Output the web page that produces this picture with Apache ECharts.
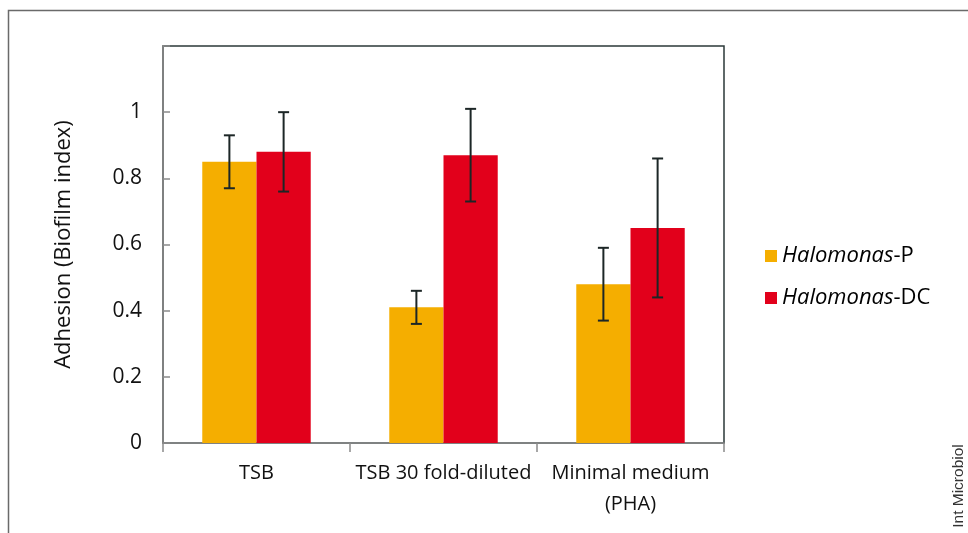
<!DOCTYPE html>
<html>
<head>
<meta charset="utf-8">
<script src="https://cdn.jsdelivr.net/npm/echarts@6/dist/echarts.min.js"></script>
<style>
html,body{margin:0;padding:0;background:#fff;}
#main{width:968px;height:533px;}
</style>
</head>
<body>
<div id="main"></div>
<script>
var categories = ['TSB', 'TSB 30 fold-diluted', 'Minimal medium\n(PHA)'];
var seriesNames = ['Halomonas-P', 'Halomonas-DC'];
var pValues = [0.85, 0.41, 0.48];
var pErrors = [0.08, 0.05, 0.11];
var dcValues = [0.88, 0.87, 0.65];
var dcErrors = [0.12, 0.14, 0.21];
var yAxisTitle = 'Adhesion (Biofilm index)';
var sourceNote = 'Int Microbiol';

var FONT = '"Open Sans", "Noto Sans", sans-serif';
var BAR_FRAC = 0.29;
var colors = ['#F5AE00', '#E2001B'];

function errorSeries(values, errors, idx) {
  var data = values.map(function (v, i) { return [i, v - errors[i], v + errors[i]]; });
  return {
    type: 'custom',
    name: seriesNames[idx] + ' error',
    z: 10,
    silent: true,
    data: data,
    encode: { x: 0, y: [1, 2] },
    renderItem: function (params, api) {
      var ci = api.value(0);
      var lo = api.coord([ci, api.value(1)]);
      var hi = api.coord([ci, api.value(2)]);
      var band = api.size([1, 0])[0];
      var bw = band * BAR_FRAC;
      var x = lo[0] + (idx === 0 ? -bw / 2 : bw / 2);
      var cap = 5.5;
      var st = { stroke: '#1c2626', lineWidth: 2 };
      return {
        type: 'group',
        children: [
          { type: 'line', shape: { x1: x, y1: lo[1], x2: x, y2: hi[1] }, style: st },
          { type: 'line', shape: { x1: x - cap, y1: hi[1], x2: x + cap, y2: hi[1] }, style: st },
          { type: 'line', shape: { x1: x - cap, y1: lo[1], x2: x + cap, y2: lo[1] }, style: st }
        ]
      };
    }
  };
}

var chart = echarts.init(document.getElementById('main'), null, { renderer: 'canvas' });
chart.setOption({
  animation: false,
  backgroundColor: '#fff',
  textStyle: { fontFamily: FONT },
  grid: {
    left: 163, right: 244, top: 46, bottom: 90,
    show: true, borderColor: '#2b3838', borderWidth: 1.5, backgroundColor: 'transparent'
  },
  legend: {
    orient: 'vertical',
    left: 760, top: 239,
    itemWidth: 12, itemHeight: 12, itemGap: 18,
    icon: 'rect',
    data: seriesNames,
    formatter: function (name) {
      var parts = name.split('-');
      return '{i|' + parts[0] + '}{n|-' + parts[1] + '}';
    },
    textStyle: {
      fontFamily: FONT, fontSize: 22, color: '#000', lineHeight: 24,
      rich: {
        i: { fontFamily: FONT, fontSize: 22, fontStyle: 'italic', color: '#000', lineHeight: 24 },
        n: { fontFamily: FONT, fontSize: 22, color: '#000', lineHeight: 24 }
      }
    }
  },
  xAxis: {
    type: 'category',
    data: categories,
    axisLine: { show: true, lineStyle: { color: '#8a8a8a', width: 1.5 } },
    axisTick: { show: true, inside: false, length: 9, lineStyle: { color: '#8a8a8a', width: 1.5 } },
    axisLabel: { color: '#111', fontSize: 20, fontFamily: FONT, margin: 15, lineHeight: 31, interval: 0 },
    splitLine: { show: false }
  },
  yAxis: {
    type: 'value',
    min: 0, max: 1.2, interval: 0.2,
    name: yAxisTitle,
    nameLocation: 'middle',
    nameGap: 88,
    nameRotate: 90,
    nameTextStyle: { fontFamily: FONT, fontSize: 22, color: '#111' },
    axisLine: { show: true, lineStyle: { color: '#8a8a8a', width: 1.5 } },
    axisTick: { show: true, inside: true, length: 7, lineStyle: { color: '#8a8a8a', width: 1.5 } },
    axisLabel: {
      color: '#111', fontSize: 21, fontFamily: FONT, margin: 21,
      formatter: function (v) { return v > 1.05 ? '' : String(Math.round(v * 10) / 10); }
    },
    splitLine: { show: false }
  },
  series: [
    { type: 'bar', name: seriesNames[0], data: pValues, barWidth: (BAR_FRAC * 100) + '%', barGap: '0%', itemStyle: { color: colors[0] } },
    { type: 'bar', name: seriesNames[1], data: dcValues, barWidth: (BAR_FRAC * 100) + '%', barGap: '0%', itemStyle: { color: colors[1] } },
    errorSeries(pValues, pErrors, 0),
    errorSeries(dcValues, dcErrors, 1)
  ],
  graphic: [
    { type: 'rect', shape: { x: 8.5, y: 10.5, width: 1000, height: 600 }, style: { fill: 'none', stroke: '#6a6a6a', lineWidth: 1.5 }, silent: true, z: -1 },
    { type: 'text', x: 959, y: 486, rotation: Math.PI / 2, style: { text: sourceNote, fontFamily: '"Liberation Sans", Arial, sans-serif', fontSize: 15.5, fill: '#333', align: 'center', verticalAlign: 'middle' } }
  ]
});
</script>
</body>
</html>
